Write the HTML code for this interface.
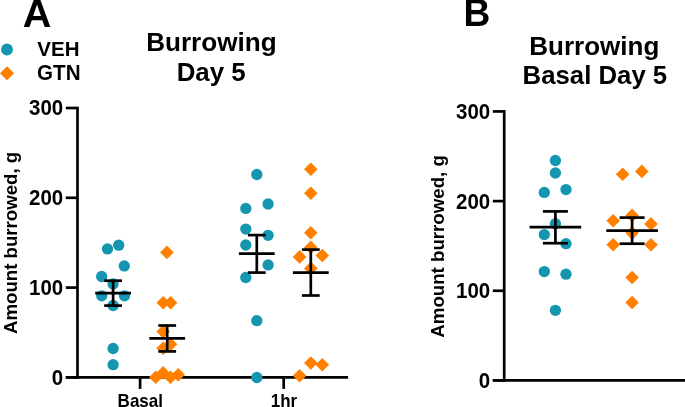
<!DOCTYPE html>
<html><head><meta charset="utf-8"><title>Burrowing Day 5</title>
<style>
html,body{margin:0;padding:0;background:#fff;}
body{width:685px;height:407px;overflow:hidden;}
svg{display:block;}
svg text{font-family:"Liberation Sans",Arial,Helvetica,sans-serif;font-weight:bold;fill:#000;}
</style></head><body>
<svg width="685" height="407" viewBox="0 0 685 407">
<rect width="685" height="407" fill="#fff"/>
<text transform="translate(22.7 26.5) scale(1.03 1)" font-size="38.5" text-anchor="start">A</text>
<circle cx="7.0" cy="49.5" r="5.9" fill="#1496B0"/>
<path d="M-0.05 73.3L7 66.25L14.05 73.3L7 80.35Z" fill="#FF8000"/>
<text transform="translate(37.3 56.15) scale(1 1.03)" font-size="20.5" text-anchor="start">VEH</text>
<text transform="translate(37.1 79.7) scale(1 1.03)" font-size="20.6" text-anchor="start">GTN</text>
<text transform="translate(211.4 51.0)" font-size="26.1" text-anchor="middle">Burrowing</text>
<text transform="translate(211.2 80.5)" font-size="25.9" text-anchor="middle">Day 5</text>
<path d="M77.5 106.65L77.5 378.75" stroke="#000" stroke-width="2.7" fill="none"/>
<path d="M65.8 108.0L77.5 108.0" stroke="#000" stroke-width="2.7" fill="none"/>
<path d="M65.8 197.8L77.5 197.8" stroke="#000" stroke-width="2.7" fill="none"/>
<path d="M65.8 287.6L77.5 287.6" stroke="#000" stroke-width="2.7" fill="none"/>
<path d="M65.8 377.4L77.5 377.4" stroke="#000" stroke-width="2.7" fill="none"/>
<path d="M65.8 377.4L348.1 377.4" stroke="#000" stroke-width="2.7" fill="none"/>
<path d="M140.1 377.4L140.1 388.9" stroke="#000" stroke-width="2.7" fill="none"/>
<path d="M283.7 377.4L283.7 388.9" stroke="#000" stroke-width="2.7" fill="none"/>
<text transform="translate(63.2 115.3) scale(1 1.035)" font-size="20.5" text-anchor="end">300</text>
<text transform="translate(63.2 205.10000000000002) scale(1 1.035)" font-size="20.5" text-anchor="end">200</text>
<text transform="translate(63.2 294.90000000000003) scale(1 1.035)" font-size="20.5" text-anchor="end">100</text>
<text transform="translate(63.2 384.7) scale(1 1.035)" font-size="20.5" text-anchor="end">0</text>
<text transform="translate(140.3 406.9) scale(1 1.035)" font-size="17" text-anchor="middle">Basal</text>
<text transform="translate(283.9 406.9) scale(1 1.035)" font-size="17" text-anchor="middle">1hr</text>
<text transform="translate(16.5 242.9) rotate(-90) scale(1.008 1.04)" font-size="18.5" text-anchor="middle">Amount burrowed, g</text>
<circle cx="107.5" cy="248.9" r="5.65" fill="#1496B0"/>
<circle cx="118.7" cy="245.2" r="5.65" fill="#1496B0"/>
<circle cx="124.3" cy="265.9" r="5.65" fill="#1496B0"/>
<circle cx="101.7" cy="276.5" r="5.65" fill="#1496B0"/>
<circle cx="113.1" cy="283.9" r="5.65" fill="#1496B0"/>
<circle cx="101.7" cy="295.8" r="5.65" fill="#1496B0"/>
<circle cx="124.5" cy="295.8" r="5.65" fill="#1496B0"/>
<circle cx="113.1" cy="305.5" r="5.65" fill="#1496B0"/>
<circle cx="113.1" cy="348.5" r="5.65" fill="#1496B0"/>
<circle cx="113.1" cy="364.7" r="5.65" fill="#1496B0"/>
<path d="M160.1 252.4L166.9 245.6L173.7 252.4L166.9 259.2Z" fill="#FF8000"/>
<path d="M156.4 302.8L163.2 296.0L170.0 302.8L163.2 309.6Z" fill="#FF8000"/>
<path d="M163.8 302.8L170.6 296.0L177.4 302.8L170.6 309.6Z" fill="#FF8000"/>
<path d="M156.4 331.6L163.2 324.8L170.0 331.6L163.2 338.4Z" fill="#FF8000"/>
<path d="M163.8 344.3L170.6 337.5L177.4 344.3L170.6 351.1Z" fill="#FF8000"/>
<path d="M156.4 348.3L163.2 341.5L170.0 348.3L163.2 355.1Z" fill="#FF8000"/>
<path d="M149.0 377.2L155.8 370.4L162.6 377.2L155.8 384.0Z" fill="#FF8000"/>
<path d="M156.3 372.9L163.1 366.1L169.9 372.9L163.1 379.7Z" fill="#FF8000"/>
<path d="M163.7 377.2L170.5 370.4L177.3 377.2L170.5 384.0Z" fill="#FF8000"/>
<path d="M171.4 374.7L178.2 367.9L185.0 374.7L178.2 381.5Z" fill="#FF8000"/>
<circle cx="256.8" cy="174.5" r="5.65" fill="#1496B0"/>
<circle cx="268.1" cy="204" r="5.65" fill="#1496B0"/>
<circle cx="245.8" cy="208.4" r="5.65" fill="#1496B0"/>
<circle cx="245.8" cy="229.1" r="5.65" fill="#1496B0"/>
<circle cx="268.1" cy="235.3" r="5.65" fill="#1496B0"/>
<circle cx="245.8" cy="245" r="5.65" fill="#1496B0"/>
<circle cx="268.1" cy="264.9" r="5.65" fill="#1496B0"/>
<circle cx="245.8" cy="277.5" r="5.65" fill="#1496B0"/>
<circle cx="256.8" cy="320.7" r="5.65" fill="#1496B0"/>
<circle cx="256.8" cy="377.5" r="5.65" fill="#1496B0"/>
<path d="M304.0 169.2L310.8 162.4L317.6 169.2L310.8 176.0Z" fill="#FF8000"/>
<path d="M304.0 193.2L310.8 186.4L317.6 193.2L310.8 200.0Z" fill="#FF8000"/>
<path d="M304.0 232.7L310.8 225.9L317.6 232.7L310.8 239.5Z" fill="#FF8000"/>
<path d="M304.0 247.4L310.8 240.6L317.6 247.4L310.8 254.2Z" fill="#FF8000"/>
<path d="M292.8 256.9L299.6 250.1L306.4 256.9L299.6 263.7Z" fill="#FF8000"/>
<path d="M315.5 255.5L322.3 248.7L329.1 255.5L322.3 262.3Z" fill="#FF8000"/>
<path d="M304.0 268.4L310.8 261.6L317.6 268.4L310.8 275.2Z" fill="#FF8000"/>
<path d="M292.8 375.7L299.6 368.9L306.4 375.7L299.6 382.5Z" fill="#FF8000"/>
<path d="M304.0 363L310.8 356.2L317.6 363L310.8 369.8Z" fill="#FF8000"/>
<path d="M315.5 364.7L322.3 357.9L329.1 364.7L322.3 371.5Z" fill="#FF8000"/>
<path d="M95.2 293.2L131.0 293.2" stroke="#000" stroke-width="2.7" fill="none"/>
<path d="M104.2 280.7L122.0 280.7" stroke="#000" stroke-width="2.7" fill="none"/>
<path d="M104.2 305.6L122.0 305.6" stroke="#000" stroke-width="2.7" fill="none"/>
<path d="M113.1 280.7L113.1 305.6" stroke="#000" stroke-width="2.7" fill="none"/>
<path d="M149.3 338.4L185.1 338.4" stroke="#000" stroke-width="2.7" fill="none"/>
<path d="M158.3 325.5L176.1 325.5" stroke="#000" stroke-width="2.7" fill="none"/>
<path d="M158.3 351.4L176.1 351.4" stroke="#000" stroke-width="2.7" fill="none"/>
<path d="M167.2 325.5L167.2 351.4" stroke="#000" stroke-width="2.7" fill="none"/>
<path d="M238.9 253.7L274.7 253.7" stroke="#000" stroke-width="2.7" fill="none"/>
<path d="M247.9 235.1L265.7 235.1" stroke="#000" stroke-width="2.7" fill="none"/>
<path d="M247.9 272.6L265.7 272.6" stroke="#000" stroke-width="2.7" fill="none"/>
<path d="M256.8 235.1L256.8 272.6" stroke="#000" stroke-width="2.7" fill="none"/>
<path d="M292.9 272.6L328.7 272.6" stroke="#000" stroke-width="2.7" fill="none"/>
<path d="M301.9 249.6L319.7 249.6" stroke="#000" stroke-width="2.7" fill="none"/>
<path d="M301.9 295.5L319.7 295.5" stroke="#000" stroke-width="2.7" fill="none"/>
<path d="M310.8 249.6L310.8 295.5" stroke="#000" stroke-width="2.7" fill="none"/>
<text transform="translate(463.5 26.4) scale(0.965 1)" font-size="38.5" text-anchor="start">B</text>
<text transform="translate(594.3 54.7)" font-size="26.0" text-anchor="middle">Burrowing</text>
<text transform="translate(594.9 84.1)" font-size="25.75" text-anchor="middle">Basal Day 5</text>
<path d="M504.2 110.1L504.2 381.75" stroke="#000" stroke-width="2.7" fill="none"/>
<path d="M492.8 111.45L504.2 111.45" stroke="#000" stroke-width="2.7" fill="none"/>
<path d="M492.8 201.1L504.2 201.1" stroke="#000" stroke-width="2.7" fill="none"/>
<path d="M492.8 290.75L504.2 290.75" stroke="#000" stroke-width="2.7" fill="none"/>
<path d="M492.8 380.4L504.2 380.4" stroke="#000" stroke-width="2.7" fill="none"/>
<path d="M492.8 380.4L685 380.4" stroke="#000" stroke-width="2.7" fill="none"/>
<text transform="translate(490.2 118.95) scale(1 1.035)" font-size="20.5" text-anchor="end">300</text>
<text transform="translate(490.2 208.6) scale(1 1.035)" font-size="20.5" text-anchor="end">200</text>
<text transform="translate(490.2 298.25) scale(1 1.035)" font-size="20.5" text-anchor="end">100</text>
<text transform="translate(490.2 387.9) scale(1 1.035)" font-size="20.5" text-anchor="end">0</text>
<text transform="translate(443.7 246.4) rotate(-90) scale(1.01 1.04)" font-size="18.5" text-anchor="middle">Amount burrowed, g</text>
<circle cx="555.4" cy="160.5" r="5.65" fill="#1496B0"/>
<circle cx="555.4" cy="173" r="5.65" fill="#1496B0"/>
<circle cx="566" cy="189.6" r="5.65" fill="#1496B0"/>
<circle cx="544.3" cy="192.4" r="5.65" fill="#1496B0"/>
<circle cx="555.4" cy="223.7" r="5.65" fill="#1496B0"/>
<circle cx="544.3" cy="234.6" r="5.65" fill="#1496B0"/>
<circle cx="566" cy="243.7" r="5.65" fill="#1496B0"/>
<circle cx="544.3" cy="271.6" r="5.65" fill="#1496B0"/>
<circle cx="566" cy="274.2" r="5.65" fill="#1496B0"/>
<circle cx="555.4" cy="310.3" r="5.65" fill="#1496B0"/>
<path d="M615.9 174.2L622.7 167.4L629.5 174.2L622.7 181.0Z" fill="#FF8000"/>
<path d="M635.0 171.4L641.8 164.6L648.6 171.4L641.8 178.2Z" fill="#FF8000"/>
<path d="M625.3 215.4L632.1 208.6L638.9 215.4L632.1 222.2Z" fill="#FF8000"/>
<path d="M606.4 220.7L613.2 213.9L620.0 220.7L613.2 227.5Z" fill="#FF8000"/>
<path d="M644.2 223.9L651 217.1L657.8 223.9L651 230.7Z" fill="#FF8000"/>
<path d="M625.3 233L632.1 226.2L638.9 233L632.1 239.8Z" fill="#FF8000"/>
<path d="M606.4 244.8L613.2 238.0L620.0 244.8L613.2 251.6Z" fill="#FF8000"/>
<path d="M644.2 244.8L651 238.0L657.8 244.8L651 251.6Z" fill="#FF8000"/>
<path d="M625.3 277.5L632.1 270.7L638.9 277.5L632.1 284.3Z" fill="#FF8000"/>
<path d="M625.3 302.5L632.1 295.7L638.9 302.5L632.1 309.3Z" fill="#FF8000"/>
<path d="M529.6 227.2L581.2 227.2" stroke="#000" stroke-width="2.7" fill="none"/>
<path d="M542.9 211.4L567.9 211.4" stroke="#000" stroke-width="2.7" fill="none"/>
<path d="M542.9 243.2L567.9 243.2" stroke="#000" stroke-width="2.7" fill="none"/>
<path d="M555.4 211.4L555.4 243.2" stroke="#000" stroke-width="2.7" fill="none"/>
<path d="M606.3 230.6L657.9 230.6" stroke="#000" stroke-width="2.7" fill="none"/>
<path d="M619.6 217.6L644.6 217.6" stroke="#000" stroke-width="2.7" fill="none"/>
<path d="M619.6 243.7L644.6 243.7" stroke="#000" stroke-width="2.7" fill="none"/>
<path d="M632.1 217.6L632.1 243.7" stroke="#000" stroke-width="2.7" fill="none"/>
</svg>
</body></html>
